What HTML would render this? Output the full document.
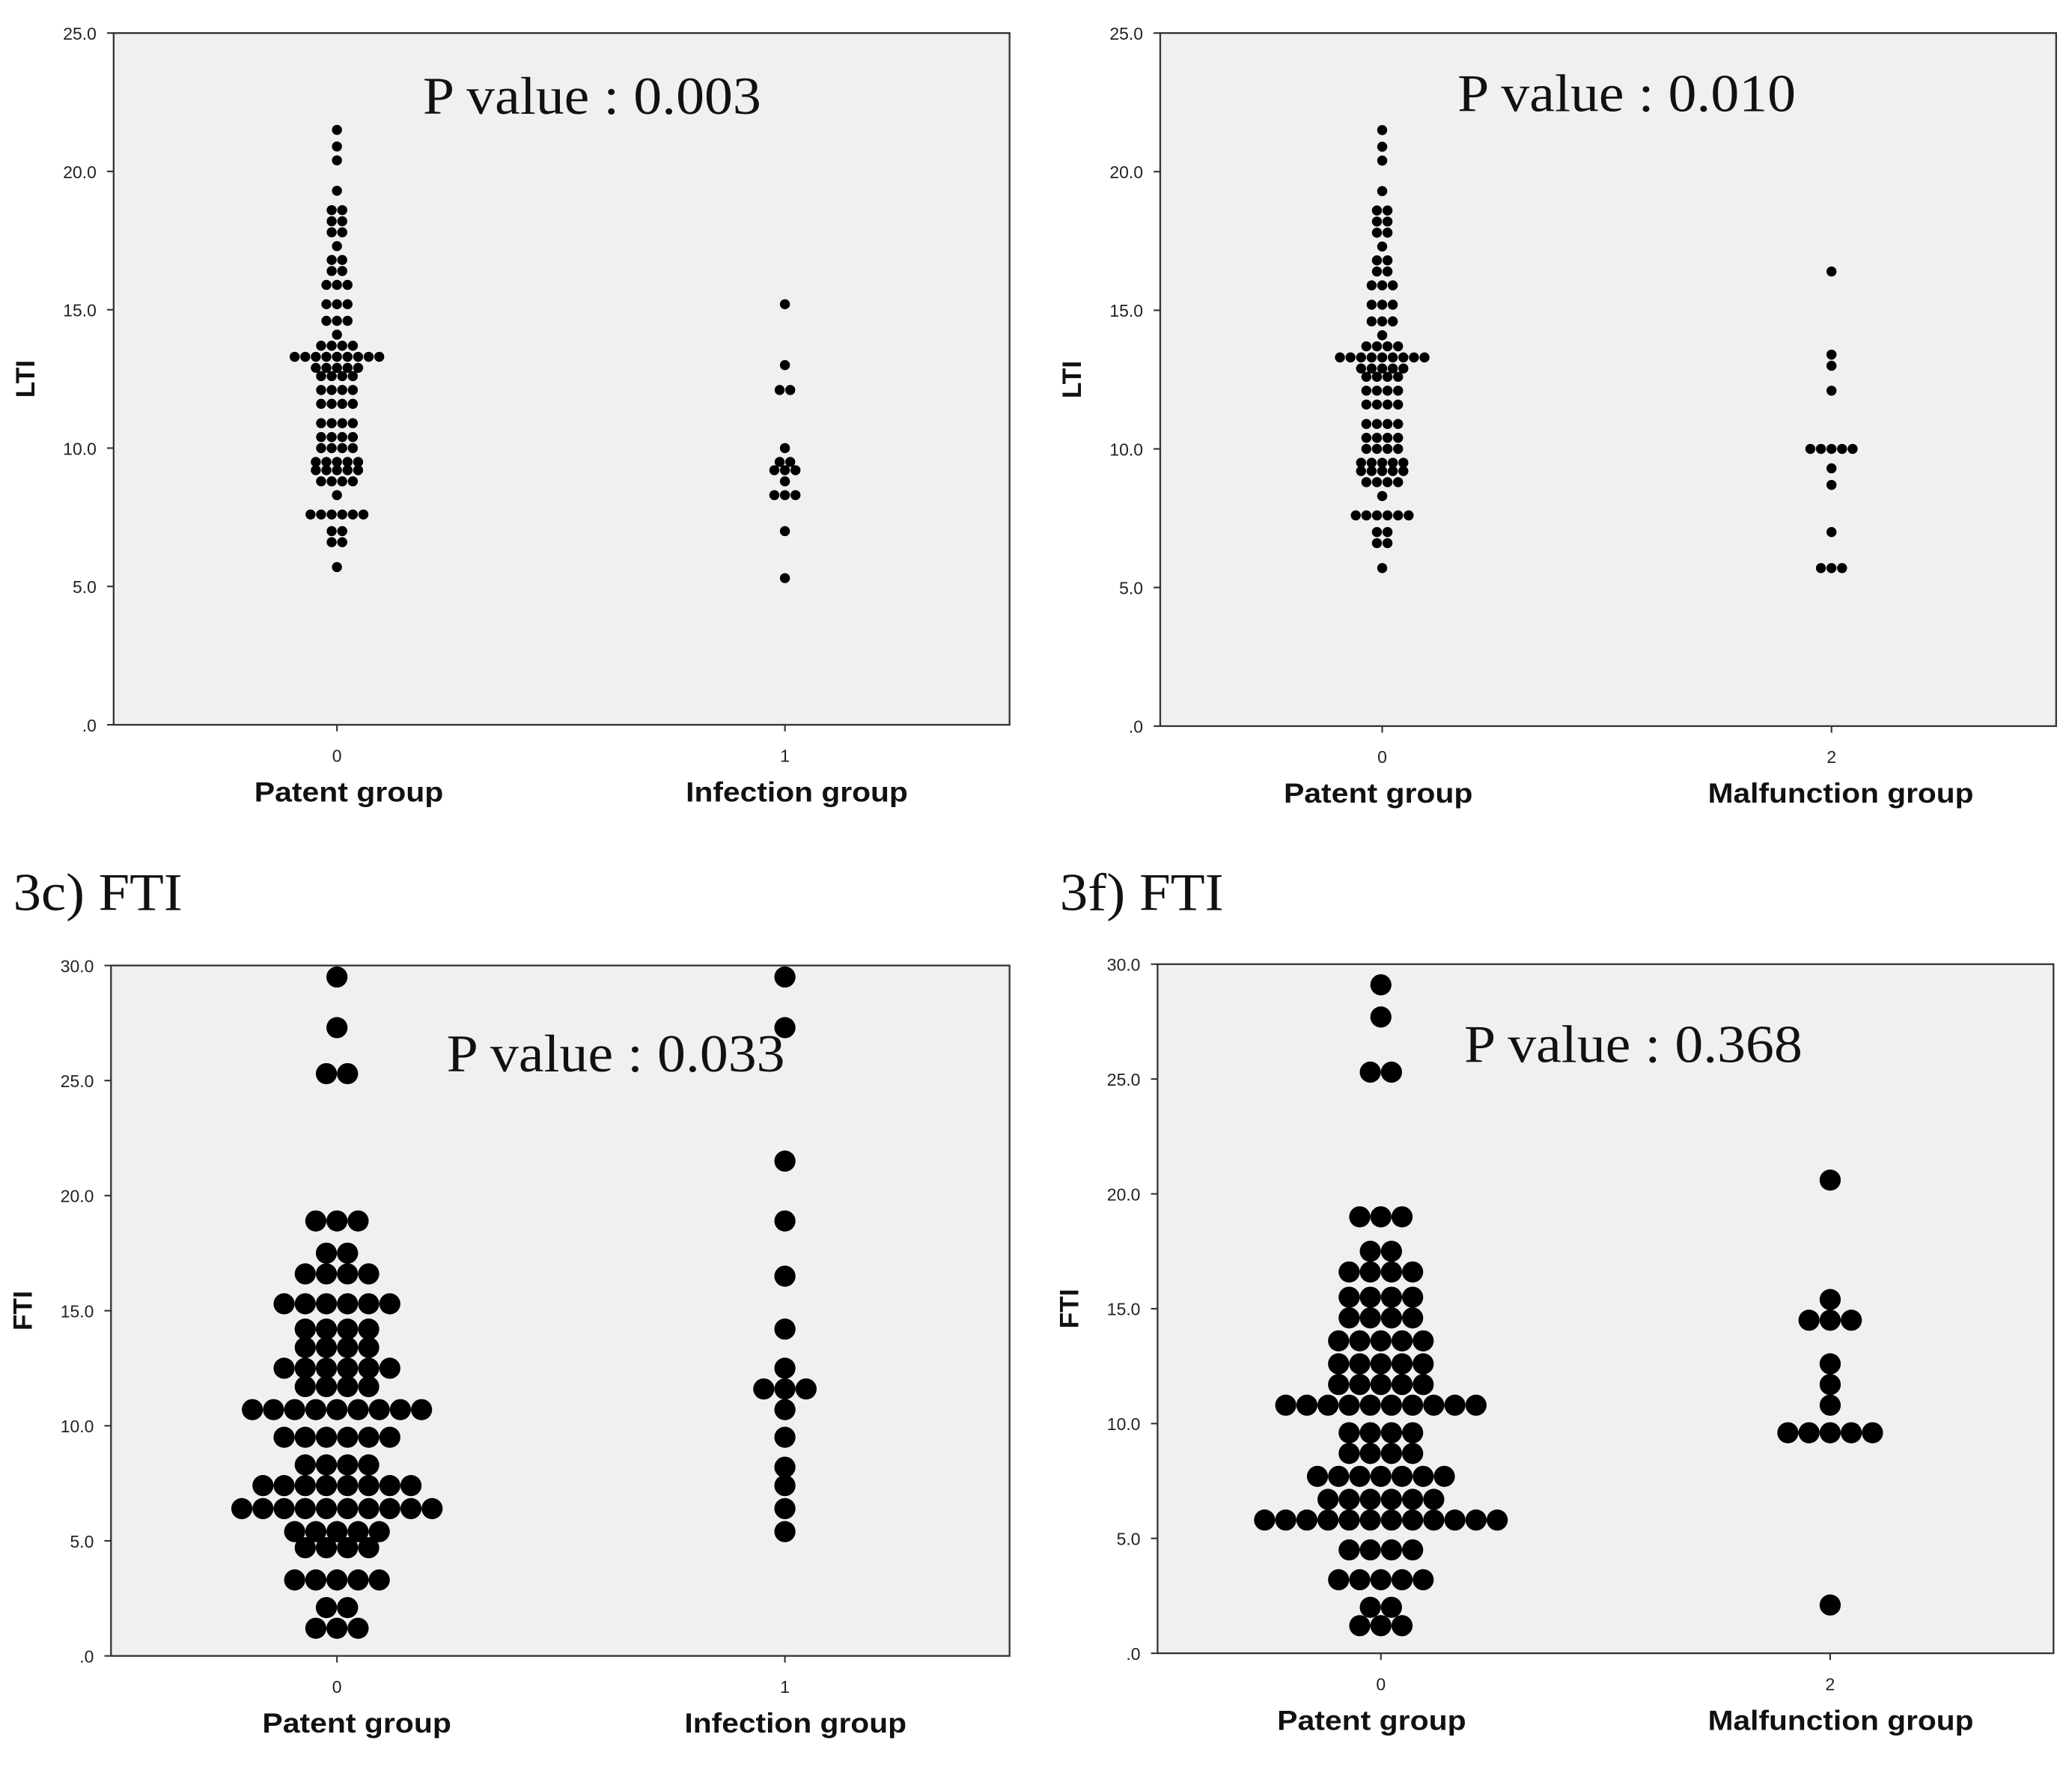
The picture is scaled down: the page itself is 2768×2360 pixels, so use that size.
<!DOCTYPE html>
<html><head><meta charset="utf-8"><style>
html,body{margin:0;padding:0;background:#fff}
svg{display:block}
.tick{font-family:"Liberation Sans",sans-serif;font-size:13px;fill:#222}
.cat{font-family:"Liberation Sans",sans-serif;font-size:21px;font-weight:bold;fill:#111}
.pv{font-family:"Liberation Serif",serif;font-size:40px;fill:#111}
.ttl{font-family:"Liberation Serif",serif;font-size:40px;fill:#111}
.yt{font-family:"Liberation Sans",sans-serif;font-size:20px;font-weight:bold;fill:#111}
</style></head><body>
<svg id="fig" width="2768" height="2360" viewBox="0 0 1568 1336" preserveAspectRatio="none" xmlns="http://www.w3.org/2000/svg">
<text class="ttl" x="10" y="688" textLength="128" lengthAdjust="spacingAndGlyphs">3c) FTI</text>
<text class="ttl" x="802" y="688" textLength="124" lengthAdjust="spacingAndGlyphs">3f) FTI</text>
</svg>
<script>
const ltiPatentValues=[21.5,20.9,20.4,19.3,18.6,18.2,17.8,17.3,16.8,16.4,15.9,15.2,14.6,14.1,13.7,13.3,12.9,12.6,12.1,11.6,10.9,10.4,10.0,9.5,9.2,8.8,8.3,7.6,7.0,6.6,5.7];
const ltiPatentCounts=[1,1,1,1,2,2,2,1,2,2,3,3,3,1,4,9,5,4,4,4,4,4,4,5,5,4,1,6,2,2,1];
const ltiInfectionValues=[15.2,13.0,12.1,10.0,9.5,9.2,8.8,8.3,7.0,5.3];
const ltiInfectionCounts=[1,1,2,1,2,3,1,3,1,1];
const ltiMalfunctionValues=[16.4,13.4,13.0,12.1,10.0,9.3,8.7,7.0,5.7];
const ltiMalfunctionCounts=[1,1,1,1,5,1,1,1,3];
const ftiPatentValuesC=[29.5,27.3,25.3,18.9,17.5,16.6,15.3,14.2,13.4,12.5,11.7,10.7,9.5,8.3,7.4,6.4,5.4,4.7,3.3,2.1,1.2];
const ftiPatentCountsC=[1,1,2,3,2,4,6,4,4,6,4,9,6,4,8,10,5,4,5,2,3];
const ftiInfectionValues=[29.5,27.3,21.5,18.9,16.5,14.2,12.5,11.6,10.7,9.5,8.2,7.4,6.4,5.4];
const ftiInfectionCounts=[1,1,1,1,1,1,1,3,1,1,1,1,1,1];
const ftiPatentValuesF=[29.1,27.7,25.3,19.0,17.5,16.6,15.5,14.6,13.6,12.6,11.7,10.8,9.6,8.7,7.7,6.7,5.8,4.5,3.2,2.0,1.2];
const ftiPatentCountsF=[1,1,2,3,2,4,4,4,5,5,5,10,4,4,7,6,12,4,5,2,3];
const ftiMalfunctionValues=[20.6,15.4,14.5,12.6,11.7,10.8,9.6,2.1];
const ftiMalfunctionCounts=[1,1,3,1,1,1,5,1];
const ltiTicks=[0,5,10,15,20,25];
const ftiTicks=[0,5,10,15,20,25,30];
const ltiTickLabels=[".0","5.0","10.0","15.0","20.0","25.0"];
const ftiTickLabels=[".0","5.0","10.0","15.0","20.0","25.0","30.0"];

const NS="http://www.w3.org/2000/svg";
const svg=document.getElementById('fig');
function mk(tag,attrs,parent){const e=document.createElementNS(NS,tag);for(const k in attrs)e.setAttribute(k,attrs[k]);(parent||svg).appendChild(e);return e;}

function panel(p){
  const g=mk('g',{});
  
  
  const y=v=>p.y1-(v/p.max)*(p.y1-p.y0);
  const bg=mk('rect',{x:p.x0,y:p.y0,width:p.x1-p.x0,height:p.y1-p.y0,fill:'#f0f0f0',stroke:'#333','stroke-width':1.3},g);
  
  
  p.ticks.forEach((t,i)=>{
    const yy=y(t);
    const tl=mk('line',{x1:p.x0-5,x2:p.x0,y1:yy,y2:yy,stroke:'#333','stroke-width':1.2},g);
    
    
    const tx=mk('text',{x:p.x0-13,y:yy+5,'text-anchor':'end',class:'tick'},g);
    tx.textContent=p.labels[i];
    
    
  });
  const yl=mk('text',{class:'yt',transform:`translate(${p.x0-60},${(p.y0+p.y1)/2}) rotate(-90)`,'text-anchor':'middle'},g);
  yl.textContent=p.ylabel;
  
  
  p.groups.forEach(gr=>{
    const xt=mk('line',{x1:gr.cx,x2:gr.cx,y1:p.y1,y2:p.y1+5,stroke:'#333','stroke-width':1.2},g);
    
    
    const tn=mk('text',{x:gr.cx,y:p.y1+28,'text-anchor':'middle',class:'tick'},g);
    tn.textContent=gr.code;
    
    
    const cl=mk('text',{x:gr.cx+gr.lo-gr.tl/2,y:p.y1+58,class:'cat',textLength:gr.tl,lengthAdjust:'spacingAndGlyphs'},g);
    cl.textContent=gr.label;
    
    
    gr.values.forEach((v,i)=>{
      const n=gr.counts[i];
      for(let k=0;k<n;k++){
        const c=mk('circle',{cx:gr.cx+(k-(n-1)/2)*p.sp,cy:y(v),r:p.r,fill:'#000'},g);
        
        
      }
    });
  });
  const pv=mk('text',{x:p.pvx,y:p.pvy,class:'pv',textLength:256,lengthAdjust:'spacingAndGlyphs'},g);
  pv.textContent=p.pv;
  
  
}

panel({name:'panel-lti-infection',x0:86,x1:764,y0:25,y1:548,max:25,ticks:ltiTicks,labels:ltiTickLabels,ylabel:'LTI',sp:8,r:3.8,
  pv:'P value : 0.003',pvx:320,pvy:86,
  groups:[{cx:255,lo:9,tl:143,code:'0',label:'Patent group',values:ltiPatentValues,counts:ltiPatentCounts},
          {cx:594,lo:9,tl:168,code:'1',label:'Infection group',values:ltiInfectionValues,counts:ltiInfectionCounts}]});
panel({name:'panel-lti-malfunction',x0:878,x1:1556,y0:25,y1:549,max:25,ticks:ltiTicks,labels:ltiTickLabels,ylabel:'LTI',sp:8,r:3.8,
  pv:'P value : 0.010',pvx:1103,pvy:84,
  groups:[{cx:1046,lo:-3,tl:143,code:'0',label:'Patent group',values:ltiPatentValues,counts:ltiPatentCounts},
          {cx:1386,lo:7,tl:201,code:'2',label:'Malfunction group',values:ltiMalfunctionValues,counts:ltiMalfunctionCounts}]});
panel({name:'panel-fti-infection',x0:84,x1:764,y0:730,y1:1252,max:30,ticks:ftiTicks,labels:ftiTickLabels,ylabel:'FTI',sp:16,r:8,
  pv:'P value : 0.033',pvx:338,pvy:810,
  groups:[{cx:255,lo:15,tl:143,code:'0',label:'Patent group',values:ftiPatentValuesC,counts:ftiPatentCountsC},
          {cx:594,lo:8,tl:168,code:'1',label:'Infection group',values:ftiInfectionValues,counts:ftiInfectionCounts}]});
panel({name:'panel-fti-malfunction',x0:876,x1:1554,y0:729,y1:1250,max:30,ticks:ftiTicks,labels:ftiTickLabels,ylabel:'FTI',sp:16,r:8,
  pv:'P value : 0.368',pvx:1108,pvy:803,
  groups:[{cx:1045,lo:-7,tl:143,code:'0',label:'Patent group',values:ftiPatentValuesF,counts:ftiPatentCountsF},
          {cx:1385,lo:8,tl:201,code:'2',label:'Malfunction group',values:ftiMalfunctionValues,counts:ftiMalfunctionCounts}]});
</script>
</body></html>
